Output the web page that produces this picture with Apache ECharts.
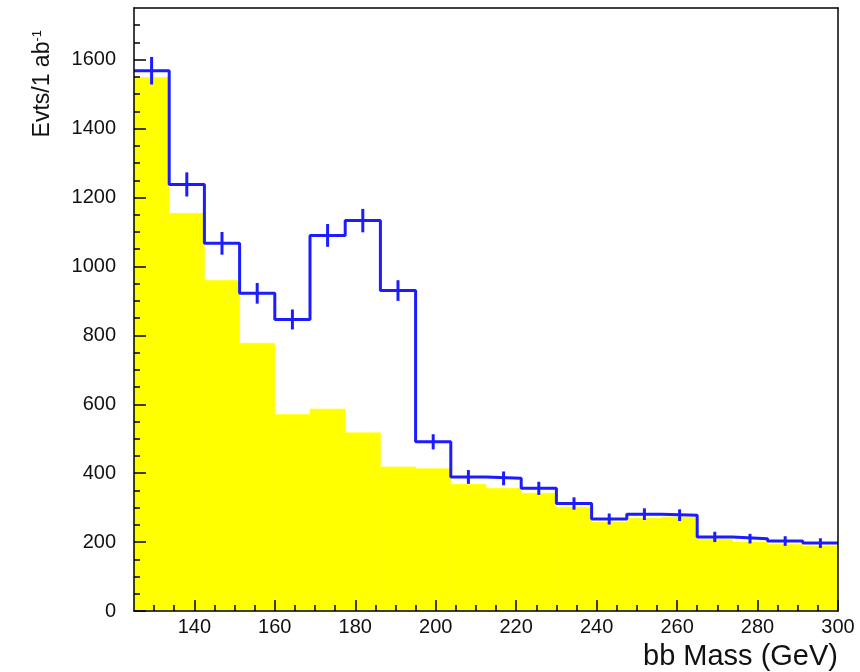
<!DOCTYPE html>
<html><head><meta charset="utf-8">
<script src="https://cdn.jsdelivr.net/npm/echarts@6/dist/echarts.min.js"></script>
<style>html,body{margin:0;padding:0;background:#fff}#c{width:860px;height:672px}</style>
</head><body><div id="c"></div>
<script>
// bin edges in GeV (20 bins)
const binEdges = [125,133.75,142.5,151.25,160,168.75,177.5,186.25,195,203.75,212.5,221.25,230,238.75,247.5,256.25,265,273.75,282.5,291.25,300];
// background (yellow filled histogram)
const background = [1548,1154,959,777,570,586,517,418,413,368,356,342,301,258,269,273,209,200,194,189];
// signal + background (blue histogram with error bars)
const total = [1568,1238,1067,922,846,1090,1133,930,491,389,385,356,312,267,281,278,215,210,203,197];
const totalErr = [40,35,33,30,29,33,34,30,22,20,20,19,18,16,17,17,15,14,14,14];
// tick labels / tick positions
const xMajorTicks = [140,160,180,200,220,240,260,280,300];
const xMinorTicks = [130,135,145,150,155,165,170,175,185,190,195,205,210,215,225,230,235,245,250,255,265,270,275,285,290,295];
const yMajorTicks = [0,200,400,600,800,1000,1200,1400,1600];
const yMinorTicks = [50,100,150,250,300,350,450,500,550,650,700,750,850,900,950,1050,1100,1150,1250,1300,1350,1450,1500,1550,1650,1700];

const xTitle = 'bb Mass (GeV)';
const yTitle = '{a|Evts/1 ab}{s|-1}';

const bins = background.map((v, i) => [binEdges[i], binEdges[i + 1], v]);
const stepData = binEdges.map((e, i) => [e, total[Math.min(i, total.length - 1)]]);
const errData = total.map((v, i) => [(binEdges[i] + binEdges[i + 1]) / 2, v, totalErr[i]]);

const FONT = 'Liberation Sans';
const BLUE = '#1c1cff';
const lineBlack = {color: '#000', width: 1.5};
const plain = v => String(v);

const chart = echarts.init(document.getElementById('c'), null, {renderer: 'canvas'});
chart.setOption({
  animation: false,
  backgroundColor: '#fff',
  grid: {left: 134, right: 22, top: 8, bottom: 61, containLabel: false},
  xAxis: [
    {
      type: 'value', min: 125, max: 300, position: 'bottom', z: 10,
      axisLine: {show: true, onZero: false, lineStyle: lineBlack},
      axisTick: {show: true, inside: true, length: 11, customValues: xMajorTicks, lineStyle: lineBlack},
      axisLabel: {show: true, customValues: xMajorTicks, formatter: plain, fontFamily: FONT, fontSize: 20, color: '#111', margin: 6},
      splitLine: {show: false},
      name: xTitle, nameLocation: 'end', nameGap: 0,
      nameTextStyle: {fontFamily: FONT, fontSize: 29, color: '#111', align: 'right', verticalAlign: 'top', padding: [31, 0, 0, 0]}
    },
    {
      type: 'value', min: 125, max: 300, position: 'bottom', z: 10,
      axisLine: {show: false},
      axisTick: {show: true, inside: true, length: 6, customValues: xMinorTicks, lineStyle: lineBlack},
      axisLabel: {show: false},
      splitLine: {show: false}
    },
    {
      type: 'value', min: 125, max: 300, position: 'top', z: 10,
      axisLine: {show: true, onZero: false, lineStyle: lineBlack},
      axisTick: {show: false}, axisLabel: {show: false}, splitLine: {show: false}
    }
  ],
  yAxis: [
    {
      type: 'value', min: 0, max: 1750, position: 'left', z: 10,
      axisLine: {show: true, onZero: false, lineStyle: lineBlack},
      axisTick: {show: true, inside: true, length: 12, customValues: yMajorTicks, lineStyle: lineBlack},
      axisLabel: {show: true, customValues: yMajorTicks, formatter: plain, fontFamily: FONT, fontSize: 20, color: '#111', margin: 18},
      splitLine: {show: false},
      name: yTitle, nameLocation: 'end', nameGap: -22, nameRotate: 90,
      nameTextStyle: {
        fontFamily: FONT, color: '#111', align: 'right', verticalAlign: 'bottom', padding: [0, 0, 80, 0],
        rich: {
          a: {fontFamily: FONT, fontSize: 23, color: '#111'},
          s: {fontFamily: FONT, fontSize: 13, color: '#111', verticalAlign: 'top', padding: [0, 0, 10, 0]}
        }
      }
    },
    {
      type: 'value', min: 0, max: 1750, position: 'left', z: 10,
      axisLine: {show: false},
      axisTick: {show: true, inside: true, length: 6, customValues: yMinorTicks, lineStyle: lineBlack},
      axisLabel: {show: false}, splitLine: {show: false}
    },
    {
      type: 'value', min: 0, max: 1750, position: 'right', z: 10,
      axisLine: {show: true, onZero: false, lineStyle: lineBlack},
      axisTick: {show: false}, axisLabel: {show: false}, splitLine: {show: false}
    }
  ],
  series: [
    {
      type: 'custom', name: 'background', xAxisIndex: 0, yAxisIndex: 0,
      data: bins, encode: {x: [0, 1], y: 2}, z: 2,
      renderItem: function (params, api) {
        const p0 = api.coord([api.value(0), api.value(2)]);
        const p1 = api.coord([api.value(1), 0]);
        return {type: 'rect', shape: {x: p0[0], y: p0[1], width: p1[0] - p0[0], height: p1[1] - p0[1]},
          style: {fill: '#ffff00', stroke: '#ffff00', lineWidth: 0.6}};
      }
    },
    {
      type: 'line', name: 'total', xAxisIndex: 0, yAxisIndex: 0,
      data: stepData, step: 'end', showSymbol: false, symbol: 'none', z: 3,
      lineStyle: {color: BLUE, width: 3}
    },
    {
      type: 'custom', name: 'errors', xAxisIndex: 0, yAxisIndex: 0,
      data: errData, encode: {x: 0, y: 1}, z: 4,
      renderItem: function (params, api) {
        const x = api.value(0), v = api.value(1), e = api.value(2);
        const a = api.coord([x, v + e]);
        const b = api.coord([x, v - e]);
        return {type: 'line', shape: {x1: a[0], y1: a[1], x2: b[0], y2: b[1]},
          style: {stroke: BLUE, lineWidth: 3}};
      }
    }
  ]
});
</script>
</body></html>
